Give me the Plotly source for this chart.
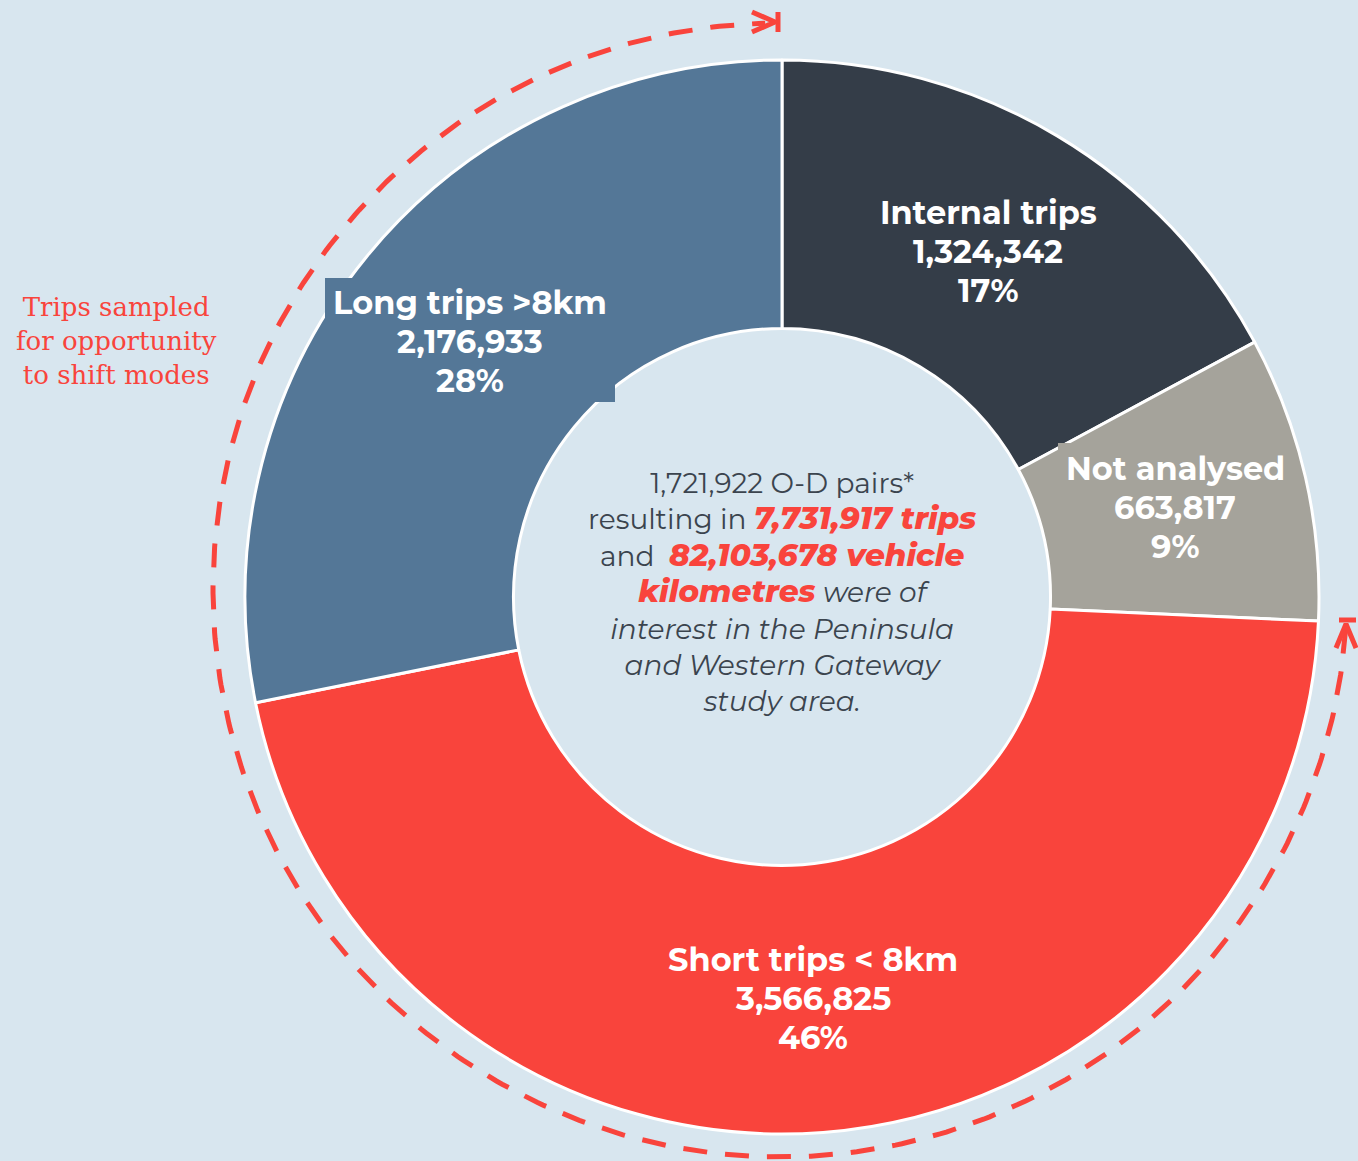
import numpy as np
import plotly.graph_objects as go

W, H = 1358, 1161
BG = "#d8e6ef"
RED = "#f9443c"
DARK = "#3b444e"

labels = ["Internal trips", "Not analysed", "Short trips < 8km", "Long trips >8km"]
values = [1324342, 663817, 3566825, 2176933]
colors = ["#343d48", "#a5a39b", "#f9443c", "#547797"]

total_pairs = 1721922
total_trips = 7731917
vehicle_km = 82103678
side_note = ["Trips sampled", "for opportunity", "to shift modes"]

total = sum(values)
pcts = [round(v / total * 100) for v in values]

# pie geometry (pixels)
cx, cy, r_out = 782, 597, 537

fig = go.Figure()
fig.add_trace(go.Pie(
    labels=labels, values=values, sort=False, direction="clockwise", rotation=0,
    hole=0.5, textinfo="none", hoverinfo="label+value+percent",
    marker=dict(colors=colors, line=dict(color="white", width=3)),
    domain=dict(x=[(cx - r_out) / W, (cx + r_out) / W],
                y=[(H - cy - r_out) / H, (H - cy + r_out) / H]),
    showlegend=False,
))

# dashed arc round the short + long slices
ac_x, ac_y, ar = 780, 590, 567
t = np.radians(np.linspace(94, 358.5, 400))
fig.add_trace(go.Scatter(
    x=ac_x + ar * np.sin(t), y=ac_y - ar * np.cos(t), mode="lines",
    line=dict(color=RED, width=5, dash="24px,18px"), hoverinfo="skip", showlegend=False))

# arrow heads: top one points right, right one points up
fig.add_trace(go.Scatter(
    x=[752, 775, 752, None, 778, 778], y=[12, 22, 32, None, 12, 32], mode="lines",
    line=dict(color=RED, width=5), hoverinfo="skip", showlegend=False))
fig.add_trace(go.Scatter(
    x=[1336, 1346, 1356, None, 1339, 1356], y=[648, 624, 648, None, 620, 620], mode="lines",
    line=dict(color=RED, width=5), hoverinfo="skip", showlegend=False))

FONT = "Montserrat, Open Sans, sans-serif"

# label backgrounds that overlap the white slice borders
shapes = [
    dict(type="rect", xref="x", yref="y", x0=325, x1=615, y0=278, y1=402,
         fillcolor=colors[3], line=dict(width=0), layer="above"),
    dict(type="rect", xref="x", yref="y", x0=1058, x1=1292, y0=443, y1=570,
         fillcolor=colors[1], line=dict(width=0), layer="above"),
]

# slice label centres (middle line)
label_pos = [(988, 251), (1175, 507), (813, 998), (470, 341)]
annotations = []
for lab, val, pct, (lx, ly) in zip(labels, values, pcts, label_pos):
    for k, line in enumerate([lab, f"{val:,}", f"{pct}%"]):
        annotations.append(dict(
            x=lx, y=ly + (k - 1) * 39, xref="x", yref="y", showarrow=False,
            text=f"<b>{line}</b>", font=dict(family=FONT, size=32, color="white"),
        ))

red_b = lambda s: (f"<b><i><span style='color:{RED};font-weight:800;font-size:31px'>"
                   f"{s}</span></i></b>")
centre = (f"{total_pairs:,} O-D pairs*<br>"
          f"resulting in {red_b(f'{total_trips:,} trips')}<br>"
          f"and  {red_b(f'{vehicle_km:,} vehicle')}<br>"
          f"{red_b('kilometres')} <i>were of</i><br>"
          "<i>interest in the Peninsula</i><br>"
          "<i>and Western Gateway</i><br>"
          "<i>study area.</i>")
annotations.append(dict(
    x=782, y=592, xref="x", yref="y", showarrow=False, text=centre,
    font=dict(family=FONT, size=28, color=DARK), align="center"))

annotations.append(dict(
    x=116, y=341, xref="x", yref="y", showarrow=False, text="<br>".join(side_note),
    font=dict(family="DejaVu Serif, serif", size=26, color=RED),
    align="center"))

fig.update_layout(
    width=W, height=H, margin=dict(l=0, r=0, t=0, b=0),
    paper_bgcolor=BG, plot_bgcolor=BG,
    xaxis=dict(range=[0, W], visible=False, fixedrange=True),
    yaxis=dict(range=[H, 0], visible=False, fixedrange=True),
    annotations=annotations, shapes=shapes,
)

fig.write_html("out.html", config={"displayModeBar": False},
               post_script="document.body.style.margin='0';")
